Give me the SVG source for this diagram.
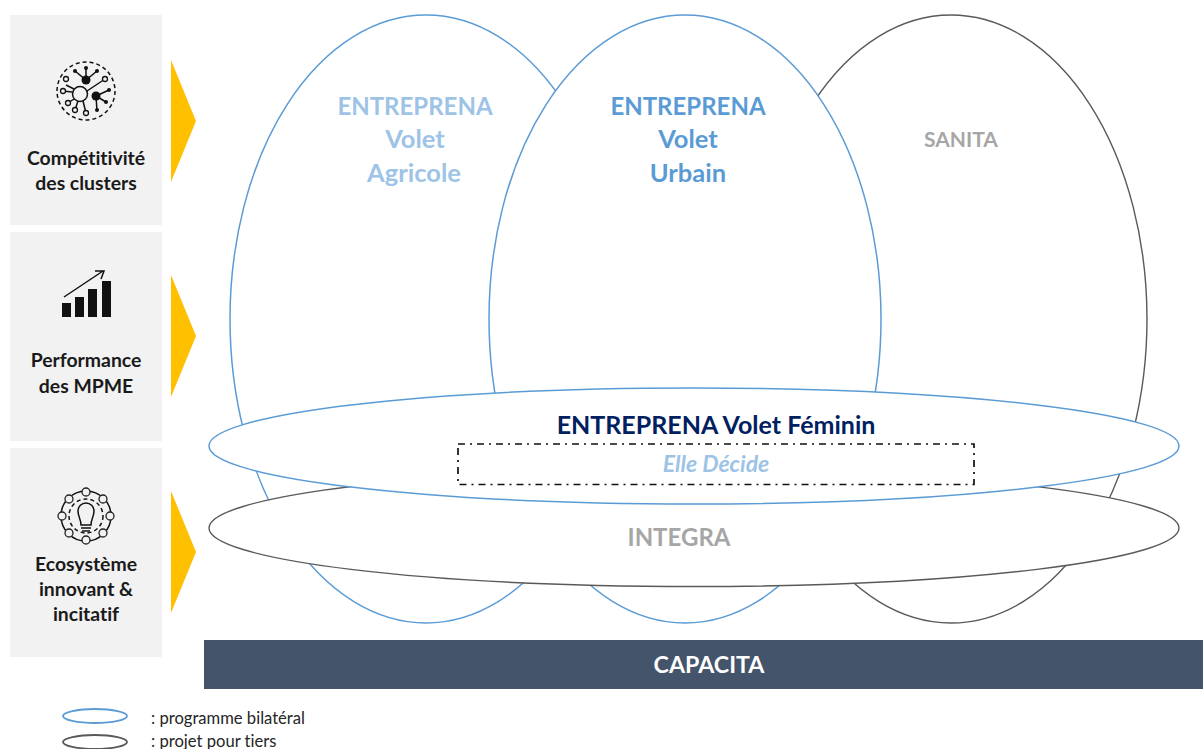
<svg xmlns="http://www.w3.org/2000/svg" width="1203" height="749" viewBox="0 0 1203 749">
<style>
text{font-family:"Lato","Open Sans","Liberation Sans",sans-serif;text-anchor:middle;font-weight:700;font-variant-ligatures:none}
.blue{fill:#fff;stroke:#5B9BD5;stroke-width:1.5}
.grey{fill:#fff;stroke:#595959;stroke-width:1.4}
.panel{fill:#F2F2F2}
.arrow{fill:#FFC000}
.lab{font-size:19.4px;fill:#1a1a1a}
.big{font-size:25.5px}
.ent{font-size:24px}
.leg{font-size:16.6px;font-weight:400;text-anchor:start;fill:#262626}
.ic{fill:none;stroke:#111;stroke-width:1.5}
.icf{fill:#111}
</style>
<g id="panel-clusters">
<rect class="panel" x="10" y="15" width="152" height="210"/>
<path class="arrow" d="M171 60L196 121L171 182Z"/>
<g>
<circle class="ic" cx="86" cy="91" r="29" stroke-dasharray="4 3"/>
<circle class="ic" cx="80" cy="94" r="7.5" stroke-width="1.8"/>
<path class="ic" d="M87 91L105 79M74 89L66 85M72 92L63 91M74 99L68 103M78 101L75 110M83 101L86 113M86 68V80M75 71L86 80L97 71M96 96L109 90M96 96L106 102M96 96L97 111"/>
<circle class="icf" cx="86" cy="80" r="4.5"/><circle class="icf" cx="96" cy="96" r="4.5"/>
<circle class="icf" cx="86" cy="68" r="2"/><circle class="icf" cx="75" cy="71" r="2"/><circle class="icf" cx="97" cy="71" r="2"/>
<circle class="icf" cx="109" cy="90" r="2"/><circle class="icf" cx="106" cy="102" r="2"/><circle class="icf" cx="97" cy="110" r="2"/>
<g fill="#F2F2F2" stroke="#111" stroke-width="1.3">
<circle cx="66" cy="79" r="2.5"/><circle cx="63" cy="91" r="2.5"/><circle cx="68" cy="103" r="2.5"/><circle cx="75" cy="110" r="2.5"/><circle cx="86" cy="113" r="2.5"/><circle cx="105" cy="79" r="2.5"/>
</g>
</g>
<text class="lab" x="86" y="165">Compétitivité</text>
<text class="lab" x="86" y="190">des clusters</text>
</g>
<g id="panel-mpme">
<rect class="panel" x="10" y="232" width="152" height="209"/>
<path class="arrow" d="M171 275L196 336L171 397Z"/>
<g>
<rect class="icf" x="62" y="303" width="9" height="14"/><rect class="icf" x="75" y="297" width="9" height="20"/><rect class="icf" x="88" y="289" width="9" height="28"/><rect class="icf" x="102" y="281" width="9" height="36"/>
<path class="ic" d="M64 297L103 271M95 271H104L101 279" stroke-width="1.8"/>
</g>
<text class="lab" x="86" y="367">Performance</text>
<text class="lab" x="86" y="393">des MPME</text>
</g>
<g id="panel-ecosysteme">
<rect class="panel" x="10" y="448" width="152" height="209"/>
<path class="arrow" d="M171 491L196 552L171 613Z"/>
<g>
<circle class="ic" cx="86" cy="516" r="17" stroke-dasharray="4 3" stroke-width="1.1"/>
<circle class="ic" cx="86" cy="516" r="25" stroke-width="1.1"/>
<g fill="#F2F2F2" stroke="#222" stroke-width="1.3">
<circle cx="86" cy="492" r="4"/><circle cx="103" cy="499" r="4"/><circle cx="110" cy="516" r="4"/><circle cx="103" cy="533" r="4"/><circle cx="86" cy="540" r="4"/><circle cx="69" cy="533" r="4"/><circle cx="62" cy="516" r="4"/><circle cx="69" cy="499" r="4"/>
</g>
<path class="ic" stroke-width="1.4" d="M81 525C81 519 78 517 78 511A8 8 0 0 1 94 511C94 517 91 519 91 525ZM81 528H91M82 531H90"/>
</g>
<text class="lab" x="86" y="571">Ecosystème</text>
<text class="lab" x="86" y="596">innovant &amp;</text>
<text class="lab" x="86" y="621">incitatif</text>
</g>
<g id="entreprena-agricole">
<ellipse class="blue" cx="426" cy="319" rx="196" ry="304"/>
<text class="ent" x="415" y="115" fill="#9DC3E6">ENTREPRENA</text>
<text class="big" x="415" y="148" fill="#9DC3E6">Volet</text>
<text class="big" x="414" y="182" fill="#9DC3E6">Agricole</text>
</g>
<g id="sanita">
<ellipse class="grey" cx="951" cy="319" rx="196" ry="304"/>
<text x="961" y="147" font-size="21px" fill="#A6A6A6">SANITA</text>
</g>
<g id="entreprena-urbain">
<ellipse class="blue" cx="685" cy="319" rx="196" ry="304"/>
<text class="ent" x="688" y="115" fill="#5B9BD5">ENTREPRENA</text>
<text class="big" x="688" y="148" fill="#5B9BD5">Volet</text>
<text class="big" x="688" y="182" fill="#5B9BD5">Urbain</text>
</g>
<g id="integra">
<ellipse class="grey" cx="694" cy="528" rx="485" ry="58.5"/>
<text x="679" y="546" font-size="24px" fill="#A6A6A6">INTEGRA</text>
</g>
<g id="entreprena-feminin">
<ellipse class="blue" cx="694" cy="446" rx="485" ry="58"/>
<text x="716" y="434" font-size="25px" fill="#002060">ENTREPRENA Volet Féminin</text>
</g>
<g id="elle-decide">
<rect x="458" y="444" width="516" height="40.5" fill="none" stroke="#111" stroke-width="1.7" stroke-dasharray="7 5 2 5"/>
<text x="716" y="472" font-size="23px" font-style="italic" fill="#9DC3E6">Elle Décide</text>
</g>
<g id="capacita">
<rect x="204" y="640" width="999" height="49" fill="#44546A"/>
<text x="709" y="673" font-size="23.2px" fill="#fff">CAPACITA</text>
</g>
<g id="legend">
<ellipse cx="95" cy="716" rx="32" ry="7" fill="#fff" stroke="#5B9BD5" stroke-width="1.8"/>
<text class="leg" x="151" y="724">: programme bilatéral</text>
<ellipse cx="95" cy="742" rx="32" ry="7" fill="#fff" stroke="#595959" stroke-width="1.8"/>
<text class="leg" x="151" y="747">: projet pour tiers</text>
</g>
<g id="connectors"/>
</svg>
